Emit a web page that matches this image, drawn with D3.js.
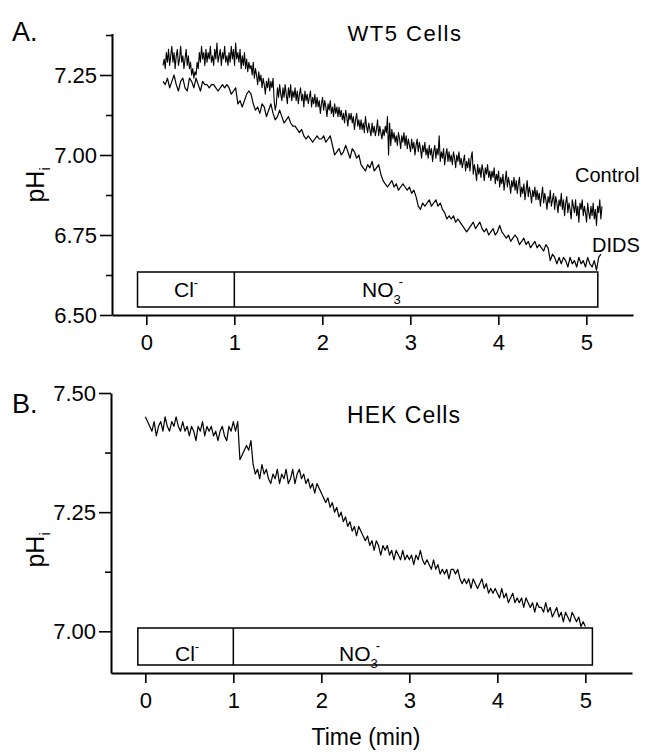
<!DOCTYPE html>
<html><head><meta charset="utf-8">
<script src="https://cdn.jsdelivr.net/npm/d3@7"></script>
<style>
body{margin:0;background:#fff;}
text{font-family:"Liberation Sans",Arial,Helvetica,sans-serif;fill:#000;}
</style></head>
<body><svg id="c" width="645" height="754"></svg>
<script>
// ---------- DATA ----------
const controlStart = 0.19, controlStep = 0.0125;   // WT5 control trace (min)
const controlPH = [
7.28,7.30,7.27,7.32,7.29,7.33,7.28,7.31,7.34,7.29,7.32,7.27,7.31,7.33,7.28,7.30,7.34,7.29,7.31,7.27,
7.30,7.33,7.28,7.31,7.27,7.29,7.25,7.27,7.24,7.26,7.25,7.29,7.27,7.32,7.29,7.34,7.30,7.32,7.28,7.33,
7.29,7.32,7.30,7.34,7.29,7.31,7.28,7.33,7.30,7.35,7.29,7.31,7.33,7.28,7.32,7.30,7.34,7.29,7.31,7.28,
7.32,7.29,7.34,7.30,7.33,7.28,7.35,7.30,7.32,7.29,7.33,7.27,7.31,7.28,7.32,7.27,7.30,7.26,7.29,7.27,
7.28,7.25,7.29,7.24,7.27,7.25,7.22,7.26,7.23,7.25,7.21,7.24,7.22,7.19,7.23,7.21,7.24,7.20,7.23,7.21,
7.24,7.17,7.14,7.16,7.21,7.18,7.22,7.19,7.17,7.21,7.18,7.22,7.19,7.16,7.21,7.18,7.22,7.17,7.20,7.18,
7.21,7.17,7.20,7.16,7.19,7.21,7.17,7.19,7.15,7.20,7.17,7.19,7.16,7.18,7.20,7.15,7.18,7.16,7.19,7.15,
7.18,7.15,7.17,7.13,7.16,7.18,7.14,7.17,7.15,7.12,7.16,7.14,7.17,7.13,7.15,7.12,7.16,7.13,7.15,7.12,
7.15,7.12,7.14,7.11,7.13,7.10,7.14,7.12,7.09,7.13,7.11,7.13,7.10,7.12,7.08,7.11,7.13,7.09,7.11,7.08,
7.11,7.08,7.10,7.07,7.12,7.09,7.07,7.10,7.08,7.06,7.10,7.07,7.09,7.06,7.08,7.11,7.06,7.09,7.07,7.05,
7.08,7.06,7.09,7.07,7.12,7.00,7.10,7.03,7.08,7.05,7.07,7.04,7.06,7.03,7.07,7.05,7.02,7.06,7.04,7.07,
7.03,7.06,7.02,7.05,7.03,7.01,7.05,7.02,7.04,7.00,7.03,7.05,7.01,7.04,7.02,6.99,7.03,7.01,7.04,7.00,
7.02,6.99,7.03,7.00,7.02,6.98,7.01,7.03,6.99,7.02,7.00,7.06,6.98,7.01,6.99,7.02,6.97,7.00,7.02,6.98,
7.01,6.98,7.00,6.97,7.01,6.99,6.96,7.00,6.98,7.01,6.97,6.99,6.96,6.98,7.00,6.95,6.98,6.96,6.99,6.95,
6.99,7.01,6.94,6.97,6.95,6.92,6.97,6.94,6.96,6.93,6.97,6.95,6.92,6.96,6.94,6.97,6.93,6.95,6.92,6.95,
6.93,6.96,6.91,6.94,6.92,6.95,6.90,6.93,6.91,6.94,6.89,6.92,6.95,6.90,6.93,6.91,6.88,6.92,6.90,6.93,
6.89,6.92,6.88,6.91,6.93,6.87,6.90,6.88,6.91,6.86,6.89,6.92,6.87,6.90,6.88,6.85,6.89,6.87,6.90,6.86,
6.89,6.86,6.88,6.84,6.87,6.90,6.85,6.88,6.86,6.83,6.87,6.85,6.89,6.84,6.86,6.88,6.83,6.87,6.85,6.82,
6.86,6.84,6.88,6.83,6.86,6.81,6.85,6.87,6.82,6.85,6.83,6.80,6.86,6.84,6.82,6.86,6.81,6.84,6.79,6.85,
6.83,6.86,6.81,6.84,6.82,6.79,6.85,6.82,6.80,6.84,6.81,6.85,6.80,6.83,6.78,6.84,6.82,6.86,6.80,6.84];
const didsStart = 0.19, didsStep = 0.025;          // WT5 + DIDS trace (min)
const didsPH = [
7.23,7.22,7.24,7.21,7.23,7.25,7.22,7.20,7.23,7.24,7.21,7.20,7.24,7.23,7.21,7.24,7.22,7.20,7.23,7.22,
7.22,7.21,7.22,7.22,7.21,7.20,7.21,7.22,7.21,7.22,7.21,7.19,7.20,7.21,7.16,7.17,7.15,7.17,7.19,7.20,
7.19,7.16,7.14,7.15,7.13,7.16,7.15,7.12,7.14,7.16,7.13,7.11,7.12,7.14,7.12,7.10,7.11,7.12,7.10,7.09,
7.09,7.08,7.07,7.08,7.06,7.05,7.06,7.05,7.04,7.05,7.06,7.05,7.05,7.06,7.04,7.05,7.06,7.03,7.00,7.01,
7.02,7.00,7.01,7.03,7.01,6.99,7.02,7.01,6.99,7.00,6.97,6.96,6.95,6.97,6.96,6.98,6.95,6.96,6.97,6.94,
6.92,6.91,6.90,6.91,6.92,6.90,6.91,6.89,6.90,6.91,6.90,6.89,6.90,6.88,6.89,6.87,6.84,6.83,6.85,6.84,
6.85,6.86,6.84,6.85,6.86,6.84,6.85,6.83,6.82,6.80,6.81,6.80,6.81,6.79,6.80,6.79,6.78,6.77,6.76,6.77,
6.78,6.79,6.77,6.78,6.79,6.77,6.76,6.77,6.75,6.76,6.77,6.75,6.76,6.78,6.76,6.75,6.74,6.75,6.73,6.74,
6.75,6.74,6.72,6.73,6.74,6.72,6.73,6.71,6.72,6.73,6.71,6.72,6.71,6.70,6.72,6.71,6.67,6.69,6.68,6.66,
6.68,6.66,6.68,6.67,6.65,6.68,6.66,6.67,6.65,6.68,6.66,6.67,6.65,6.68,6.66,6.65,6.67,6.64,6.68,6.69];
const hekStart = 0.0, hekStep = 0.025;             // HEK trace (min)
const hekPH = [
7.45,7.44,7.43,7.42,7.44,7.41,7.43,7.44,7.42,7.45,7.43,7.42,7.44,7.43,7.45,7.43,7.42,7.44,7.42,7.43,
7.41,7.43,7.42,7.40,7.43,7.42,7.44,7.41,7.43,7.42,7.43,7.41,7.42,7.40,7.42,7.43,7.41,7.40,7.43,7.42,
7.44,7.42,7.44,7.36,7.37,7.38,7.39,7.38,7.40,7.35,7.33,7.34,7.32,7.35,7.33,7.34,7.32,7.31,7.33,7.32,
7.34,7.31,7.33,7.32,7.34,7.31,7.32,7.34,7.31,7.33,7.34,7.32,7.33,7.31,7.32,7.30,7.31,7.29,7.31,7.30,
7.29,7.28,7.27,7.28,7.26,7.27,7.25,7.26,7.24,7.25,7.23,7.24,7.22,7.23,7.21,7.22,7.20,7.22,7.21,7.20,
7.19,7.20,7.18,7.19,7.17,7.19,7.18,7.16,7.18,7.17,7.18,7.16,7.17,7.15,7.17,7.16,7.15,7.17,7.15,7.16,
7.15,7.16,7.14,7.16,7.15,7.17,7.15,7.14,7.15,7.14,7.13,7.15,7.13,7.14,7.12,7.13,7.12,7.13,7.11,7.13,
7.13,7.12,7.13,7.11,7.10,7.11,7.10,7.11,7.09,7.11,7.10,7.09,7.10,7.11,7.09,7.10,7.08,7.09,7.08,7.09,
7.08,7.07,7.09,7.07,7.08,7.06,7.07,7.08,7.06,7.07,7.06,7.07,7.05,7.07,7.06,7.05,7.06,7.04,7.06,7.05,
7.05,7.04,7.06,7.04,7.05,7.03,7.04,7.05,7.03,7.04,7.02,7.04,7.03,7.02,7.04,7.03,7.02,7.03,7.01,7.02,
7.01];
const xTicks = [0,1,2,3,4,5];
const yTicksA = [6.50,6.75,7.00,7.25];
const yMinorA = [6.625,6.875,7.125,7.375];
const yTicksB = [7.00,7.25,7.50];
const yMinorB = [7.125,7.375];
// perfusion periods (min): [start, end]
const clPeriodA = [-0.1, 1.0], no3PeriodA = [1.0, 5.13];
const clPeriodB = [-0.085, 1.0], no3PeriodB = [1.0, 5.08];

// ---------- DRAW ----------
const svg = d3.select("#c");
svg.append("rect").attr("width",645).attr("height",754).attr("fill","#fff");

function toPts(start, step, vals){ return vals.map((v,i)=>[start + i*step, v]); }

function panel(opts){
  const g = svg.append("g");
  const x = d3.scaleLinear().domain([-0.39,5.53]).range([opts.x0, opts.x1]);
  const y = d3.scaleLinear().domain(opts.yDomain).range([opts.yBot, opts.yTop]);
  const fmt = d3.format(".2f");
  const ya = g.append("g").attr("transform",`translate(${opts.x0},0)`)
    .call(d3.axisLeft(y).tickValues(opts.yTicks).tickSize(12).tickSizeOuter(0).tickPadding(3).tickFormat(fmt));
  ya.selectAll("text").style("font-size","22px").attr("font-family",null);
  g.append("g").attr("transform",`translate(${opts.x0},0)`)
    .call(d3.axisLeft(y).tickValues(opts.yMinor).tickSize(6).tickFormat(""))
    .select(".domain").remove();
  const xa = g.append("g").attr("transform",`translate(0,${opts.yBot})`)
    .call(d3.axisBottom(x).tickValues(xTicks).tickSize(10).tickSizeOuter(0).tickPadding(9).tickFormat(d3.format("d")));
  xa.selectAll("text").style("font-size","22px").attr("font-family",null);
  g.selectAll(".domain").attr("stroke-width",2);
  g.selectAll(".tick line").attr("stroke-width",1.6);
  const b = opts.box;
  g.append("rect").attr("x",x(opts.cl[0])).attr("y",b[0]).attr("width",x(opts.no3[1])-x(opts.cl[0])).attr("height",b[1]-b[0])
    .attr("fill","none").attr("stroke","#000").attr("stroke-width",1.5);
  g.append("line").attr("x1",x(opts.no3[0])).attr("x2",x(opts.no3[0])).attr("y1",b[0]).attr("y2",b[1])
    .attr("stroke","#000").attr("stroke-width",1.5);
  const cl = g.append("text").attr("x",opts.clX).attr("y",opts.labY).style("font-size","21px");
  cl.append("tspan").text("Cl");
  cl.append("tspan").attr("dy",-10).style("font-size","13px").text("-");
  const no = g.append("text").attr("x",opts.noX).attr("y",opts.labY).style("font-size","21px");
  no.append("tspan").text("NO");
  no.append("tspan").attr("dy",7).style("font-size","13px").text("3");
  no.append("tspan").attr("dy",-18).attr("dx",-2).style("font-size","13px").text("-");
  const line = d3.line().x(d=>x(d[0])).y(d=>y(d[1]));
  opts.series.forEach(s=>{
    g.append("path").attr("d",line(s.pts)).attr("fill","none").attr("stroke","#000")
      .attr("stroke-width",s.w).attr("stroke-linejoin","round");
  });
  const yl = g.append("text").attr("transform",`translate(44,${opts.yLabY}) rotate(-90)`)
    .attr("text-anchor","middle").style("font-size","25px");
  yl.append("tspan").text("pH");
  yl.append("tspan").attr("dy",6).style("font-size","14px").text("i");
  return {x,y,g};
}

panel({x0:112,x1:633,yTop:33.4,yBot:315,yDomain:[6.5,7.38],yTicks:yTicksA,yMinor:yMinorA,
  box:[272,307],cl:clPeriodA,no3:no3PeriodA,clX:174,noX:362,labY:297,yLabY:185,
  series:[{pts:toPts(controlStart,controlStep,controlPH),w:1.1},{pts:toPts(didsStart,didsStep,didsPH),w:1.2}]});

panel({x0:111,x1:632,yTop:393,yBot:673,yDomain:[6.9125,7.5],yTicks:yTicksB,yMinor:yMinorB,
  box:[628,665],cl:clPeriodB,no3:no3PeriodB,clX:175,noX:339,labY:661,yLabY:550,
  series:[{pts:toPts(hekStart,hekStep,hekPH),w:1.2}]});

svg.append("text").attr("x",12).attr("y",41).style("font-size","27px").text("A.");
svg.append("text").attr("x",12).attr("y",413).style("font-size","27px").text("B.");
svg.append("text").attr("x",405).attr("y",41).attr("text-anchor","middle").style("font-size","22px").style("letter-spacing","1.5px").text("WT5 Cells");
svg.append("text").attr("x",404).attr("y",423).attr("text-anchor","middle").style("font-size","23px").style("letter-spacing","1px").text("HEK Cells");
svg.append("text").attr("x",575).attr("y",182).style("font-size","20px").text("Control");
svg.append("text").attr("x",592).attr("y",252).style("font-size","20px").text("DIDS");
svg.append("text").attr("x",366).attr("y",745).attr("text-anchor","middle").style("font-size","23px").text("Time (min)");
</script></body></html>
